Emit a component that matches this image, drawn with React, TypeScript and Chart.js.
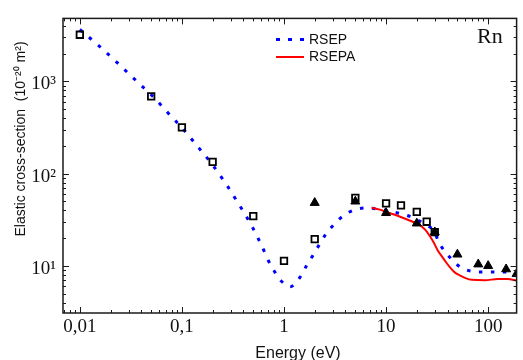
import { useEffect, useRef } from 'react';
import { Chart, registerables } from 'chart.js';

Chart.register(...registerables);

// RSEP curve (blue dotted)
const rsepEnergy = [0.01, 0.0156, 0.0235, 0.0354, 0.054, 0.078, 0.1, 0.137, 0.2, 0.269, 0.367, 0.487, 0.608, 0.706, 0.807, 0.944, 1.15, 1.45, 1.66, 1.93, 2.24, 2.59, 3.1, 3.85, 4.94, 6.5, 8.6, 11.6, 15.7, 19.6, 24.4, 29.4, 32.9, 35.5, 41.8, 50, 62, 79, 104, 145, 190];
const rsepSigma = [3660, 2400, 1580, 1025, 659, 421, 315, 208, 124, 78, 45.3, 26.7, 16.3, 11.3, 8.7, 6.8, 5.95, 7.64, 10, 13.1, 17.3, 22.3, 28.2, 35.2, 40.7, 42.5, 41.1, 38.5, 35.5, 32.2, 27.8, 24, 18, 15.7, 12.5, 10.2, 9.0, 8.6, 8.6, 8.6, 8.2];

// RSEPA curve (red solid)
const rsepaEnergy = [7.2, 8.5, 10, 12, 15, 18, 20, 22.5, 24.5, 27, 29.2, 32, 35.5, 39, 42.7, 47, 53.3, 60, 69.2, 93, 124, 155, 190];
const rsepaSigma = [42.8, 41, 38.5, 36, 32.8, 30.3, 28.9, 26.6, 24.2, 20.8, 18, 14.8, 12.5, 10.8, 9.5, 8.5, 7.83, 7.35, 7.05, 7.0, 7.18, 7.18, 6.93];

// Experimental data: open squares
const squareEnergy = [0.01, 0.05, 0.1, 0.2, 0.5, 1, 2, 5, 10, 14, 20, 25, 30];
const squareSigma = [3210, 690, 318, 134, 34.6, 11.3, 19.5, 54.6, 47.6, 45.3, 38.5, 30.1, 23.2];

// Experimental data: filled triangles
const triangleEnergy = [2, 5, 10, 20, 30, 50, 80, 100, 150, 190];
const triangleSigma = [48.3, 50, 37.5, 28.9, 23.2, 13.3, 10.4, 10.0, 9.2, 8.2];

const xTickValues = [0.01, 0.1, 1, 10, 100];
const xTickLabels = ['0,01', '0,1', '1', '10', '100'];
const yTickValues = [10, 100, 1000];
const yTickLabels = ['10¹', '10²', '10³'];
const seriesNames = ['RSEP', 'RSEPA'];
const elementLabel = 'Rn';
const xTitle = 'Energy (eV)';
const yTitle = 'Elastic cross-section  (10⁻²⁰ m²)';

const SERIF = "'Liberation Serif', 'Times New Roman', serif";
const SANS = "'Liberation Sans', Arial, sans-serif";

const decorPlugin = {
  id: 'decor',
  afterDraw(chart: any) {
    const { ctx, chartArea, scales } = chart;
    const { left, right, top, bottom } = chartArea;
    const x = scales.x;
    const y = scales.y;
    ctx.save();
    // frame
    ctx.strokeStyle = '#1a1a1a';
    ctx.lineWidth = 1.5;
    ctx.strokeRect(left, top, right - left, bottom - top);
    // ticks
    ctx.lineWidth = 1;
    ctx.beginPath();
    for (let d = -3; d <= 3; d++) {
      for (let m = 1; m <= 9; m++) {
        const v = m * Math.pow(10, d);
        const len = m === 1 ? 6 : 3;
        if (v >= x.min && v <= x.max) {
          const px = Math.round(x.getPixelForValue(v)) + 0.5;
          ctx.moveTo(px, bottom);
          ctx.lineTo(px, bottom - len);
          ctx.moveTo(px, top);
          ctx.lineTo(px, top + len);
        }
        if (v >= y.min && v <= y.max) {
          const py = Math.round(y.getPixelForValue(v)) + 0.5;
          ctx.moveTo(left, py);
          ctx.lineTo(left + len, py);
          ctx.moveTo(right, py);
          ctx.lineTo(right - len, py);
        }
      }
    }
    ctx.stroke();

    // legend
    const lx0 = 276;
    const lx1 = 304;
    ctx.strokeStyle = '#0000ff';
    ctx.lineWidth = 3;
    ctx.setLineDash([4, 8]);
    ctx.beginPath();
    ctx.moveTo(lx0, 39.5);
    ctx.lineTo(lx1 + 2, 39.5);
    ctx.stroke();
    ctx.setLineDash([]);
    ctx.strokeStyle = '#ff0000';
    ctx.lineWidth = 2;
    ctx.beginPath();
    ctx.moveTo(lx0, 57);
    ctx.lineTo(lx1, 57);
    ctx.stroke();
    ctx.fillStyle = '#111';
    ctx.font = `14px ${SANS}`;
    ctx.textAlign = 'left';
    ctx.textBaseline = 'middle';
    ctx.fillText(seriesNames[0], 309, 40);
    ctx.fillText(seriesNames[1], 309, 57);

    // element label
    ctx.font = `22px ${SERIF}`;
    ctx.textBaseline = 'alphabetic';
    ctx.fillText(elementLabel, 477, 43);

    // x title
    ctx.font = `16px ${SANS}`;
    ctx.textAlign = 'center';
    ctx.fillText(xTitle, 298, 358);

    // y title
    ctx.translate(21.5, 139);
    ctx.rotate(-Math.PI / 2);
    ctx.font = `14px ${SANS}`;
    ctx.textAlign = 'center';
    ctx.textBaseline = 'middle';
    ctx.fillText(yTitle, 0, 0);
    ctx.restore();
  },
};

export default function App() {
  const ref = useRef<HTMLCanvasElement>(null);
  useEffect(() => {
    const canvas = ref.current!;
    const chart = new Chart(canvas, {
      type: 'scatter',
      data: {
        datasets: [
          {
            label: 'exp-triangles',
            data: triangleEnergy.map((e, i) => ({ x: e, y: triangleSigma[i] })),
            pointStyle: 'triangle',
            pointRadius: 5.2,
            pointBackgroundColor: '#000',
            pointBorderColor: '#000',
            pointBorderWidth: 1,
            showLine: false,
          },
          {
            label: 'exp-squares',
            data: squareEnergy.map((e, i) => ({ x: e, y: squareSigma[i] })),
            pointStyle: 'rect',
            pointRadius: 4.6,
            pointBackgroundColor: 'rgba(0,0,0,0)',
            pointBorderColor: '#000',
            pointBorderWidth: 1.8,
            showLine: false,
          },
          {
            label: seriesNames[1],
            data: rsepaEnergy.map((e, i) => ({ x: e, y: rsepaSigma[i] })),
            showLine: true,
            borderColor: '#ff0000',
            borderWidth: 2,
            pointRadius: 0,
            cubicInterpolationMode: 'monotone',
          },
          {
            label: seriesNames[0],
            data: rsepEnergy.map((e, i) => ({ x: e, y: rsepSigma[i] })),
            showLine: true,
            borderColor: '#0000ff',
            borderWidth: 3,
            borderDash: [3.5, 8.5],
            pointRadius: 0,
            cubicInterpolationMode: 'monotone',
          },
        ],
      } as any,
      options: {
        responsive: false,
        animation: false,
        devicePixelRatio: 1,
        events: [],
        layout: { padding: { top: 13, right: 1, left: 0, bottom: 0 } },
        plugins: { legend: { display: false }, tooltip: { enabled: false } },
        scales: {
          x: {
            type: 'logarithmic',
            min: 0.00684,
            max: 190,
            afterBuildTicks: (s: any) => {
              s.ticks = xTickValues.map((v) => ({ value: v }));
            },
            afterFit: (s: any) => {
              s.height = 47;
            },
            ticks: {
              callback: (_v: any, i: number) => xTickLabels[i],
              font: { family: SERIF, size: 19 },
              color: '#111',
              padding: 3,
              maxRotation: 0,
              autoSkip: false,
            },
            grid: { display: false, drawTicks: false },
            border: { display: false },
          },
          y: {
            type: 'logarithmic',
            min: 3.08,
            max: 4830,
            afterBuildTicks: (s: any) => {
              s.ticks = yTickValues.map((v) => ({ value: v }));
            },
            afterFit: (s: any) => {
              s.width = 63;
            },
            ticks: {
              callback: (_v: any, i: number) => yTickLabels[i],
              font: { family: SERIF, size: 19 },
              color: '#111',
              padding: 7,
              labelOffset: 3,
              autoSkip: false,
            },
            grid: { display: false, drawTicks: false },
            border: { display: false },
          },
        },
      } as any,
      plugins: [decorPlugin],
    });
    return () => chart.destroy();
  }, []);
  return (
    <div style={{ position: 'fixed', left: 0, top: 0, width: 523, height: 360, background: '#fff' }}>
      <canvas ref={ref} width={523} height={360} style={{ display: 'block', width: 523, height: 360 }} />
    </div>
  );
}
